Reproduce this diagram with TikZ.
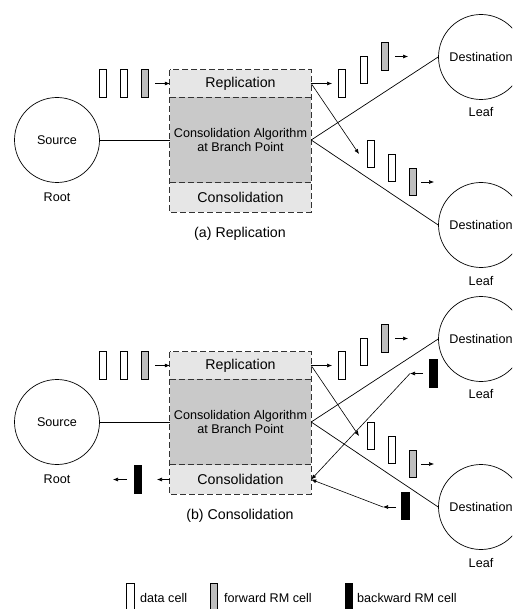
\documentclass[tikz,border=0pt]{standalone}
\usepackage{fontspec}
\setmainfont{Liberation Sans}
\usetikzlibrary{arrows.meta}

\definecolor{secfill}{HTML}{E6E6E6}
\definecolor{algfill}{HTML}{C9C9C9}
\definecolor{fwdfill}{HTML}{BEBEBE}
\definecolor{dashgray}{HTML}{333333}

\tikzset{
  every node/.style={font=\fontsize{12.6}{14.5}\selectfont},
  station/.style={circle, draw, line width=0.7pt, minimum size=85pt, inner sep=0pt},
  sect/.style={fill=secfill, minimum width=141pt, inner sep=0pt,
    font=\fontsize{14.2}{16}\selectfont},
  algo/.style={fill=algfill, minimum width=141pt, minimum height=86pt,
    inner sep=0pt, align=center},
  dashframe/.style={dash pattern=on 6pt off 3pt, line width=0.9pt, draw=dashgray},
  cell/.style={draw, line width=0.7pt, minimum width=7.5pt, minimum height=27.5pt, inner sep=0pt},
  datacell/.style={cell, fill=white},
  fwdcell/.style={cell, fill=fwdfill},
  bwdcell/.style={cell, fill=black},
  arr/.style={-{Latex[length=5pt,width=4pt]}, line width=0.6pt},
  link/.style={line width=0.7pt},
  caption/.style={font=\fontsize{14.2}{16}\selectfont},
  legendtext/.style={anchor=west, inner sep=0pt},
}

% One branch point with its root, two leaves and the forward cell flow.
% #1 = name prefix of the nodes in this copy
\newcommand\branchhalf[1]{%
  % root and branch point box
  \node[station] (#1src) at (57,140) {Source};
  \node (#1root) at (57,197) {Root};
  \node[sect, minimum height=27pt] (#1rep) at (240.5,83.5) {Replication};
  \node[algo] (#1alg) at (240.5,140) {Consolidation Algorithm\\at Branch Point};
  \node[sect, minimum height=29pt] (#1con) at (240.5,197.5) {Consolidation};
  \draw[dashframe] (#1rep.north west) rectangle (#1con.south east);
  \draw[dashframe] (#1rep.south west) -- (#1rep.south east);
  \draw[dashframe] (#1con.north west) -- (#1con.north east);
  % leaves
  \node[station] (#1dA) at (481,57) {Destination};
  \node (#1lA) at (481,112) {Leaf};
  \node[station] (#1dB) at (481,225) {Destination};
  \node (#1lB) at (481,281) {Leaf};
  % tree links
  \draw[link] (#1src.east) -- (#1alg.west);
  \draw[link] (#1alg.east) -- (#1dA.west);
  \draw[link] (#1alg.east) -- (#1dB.west);
  % incoming cells
  \node[datacell] (#1i1) at (103,83.5) {};
  \node[datacell] (#1i2) at (124,83.5) {};
  \node[fwdcell]  (#1i3) at (145,83.5) {};
  \coordinate (#1ia) at (155,83.5);
  \draw[arr] (#1ia) -- (#1rep.west);
  % replicated cells towards the upper leaf
  \node[datacell] (#1u1) at (342,83.5) {};
  \node[datacell] (#1u2) at (364,70) {};
  \node[fwdcell]  (#1u3) at (385,56.5) {};
  \coordinate (#1ua) at (332,83.5);
  \draw[arr] (#1rep.east) -- (#1ua);
  \coordinate (#1ub) at (395,56.5);
  \coordinate (#1uc) at (408,56.5);
  \draw[arr] (#1ub) -- (#1uc);
  % replicated cells towards the lower leaf
  \node[datacell] (#1w1) at (371,154) {};
  \node[datacell] (#1w2) at (392,168) {};
  \node[fwdcell]  (#1w3) at (413,182) {};
  \coordinate (#1wa) at (359,154);
  \draw[arr] (#1rep.east) -- (#1wa);
  \coordinate (#1wb) at (421,182);
  \coordinate (#1wc) at (434,182);
  \draw[arr] (#1wb) -- (#1wc);
}

\begin{document}
\begin{tikzpicture}[x=1pt,y=-1pt]
  \useasboundingbox (0,0) rectangle (512,609);
  \fill[white] (0,0) rectangle (512,609);
  \clip (0,0) rectangle (512,609);

  % (a) replication
  \branchhalf{a}
  \node[caption] (acap) at (240,234) {(a) Replication};

  % (b) consolidation
  \begin{scope}[yshift=-282pt]
    \branchhalf{b}
    \node[caption] (bcap) at (240,234) {(b) Consolidation};
    % backward cell leaving towards the root
    \node[bwdcell] (bk0) at (138,197.5) {};
    \coordinate (bk0a) at (157,197.5);
    \draw[arr] (bcon.west) -- (bk0a);
    \coordinate (bk0b) at (127,197.5);
    \coordinate (bk0c) at (113,197.5);
    \draw[arr] (bk0b) -- (bk0c);
    % backward cells arriving from the leaves
    \node[bwdcell] (bk1) at (433.5,91.5) {};
    \coordinate (bk1a) at (423,91.5);
    \coordinate (bk1b) at (410,91.5);
    \draw[arr] (bk1a) -- (bk1b);
    \draw[arr] (bk1b) -- (bcon.east);
    \node[bwdcell] (bk2) at (405.5,224) {};
    \coordinate (bk2a) at (396,225);
    \coordinate (bk2b) at (383,225);
    \draw[arr] (bk2a) -- (bk2b);
    \draw[arr] (bk2b) -- (bcon.east);
  \end{scope}

  % legend
  \node[datacell] (lg1) at (130.5,597) {};
  \node[legendtext] (lt1) at (140,598) {data cell};
  \node[fwdcell] (lg2) at (214,597) {};
  \node[legendtext] (lt2) at (224,598) {forward RM cell};
  \node[bwdcell] (lg3) at (349,597) {};
  \node[legendtext] (lt3) at (357,598) {backward RM cell};
\end{tikzpicture}
\end{document}
